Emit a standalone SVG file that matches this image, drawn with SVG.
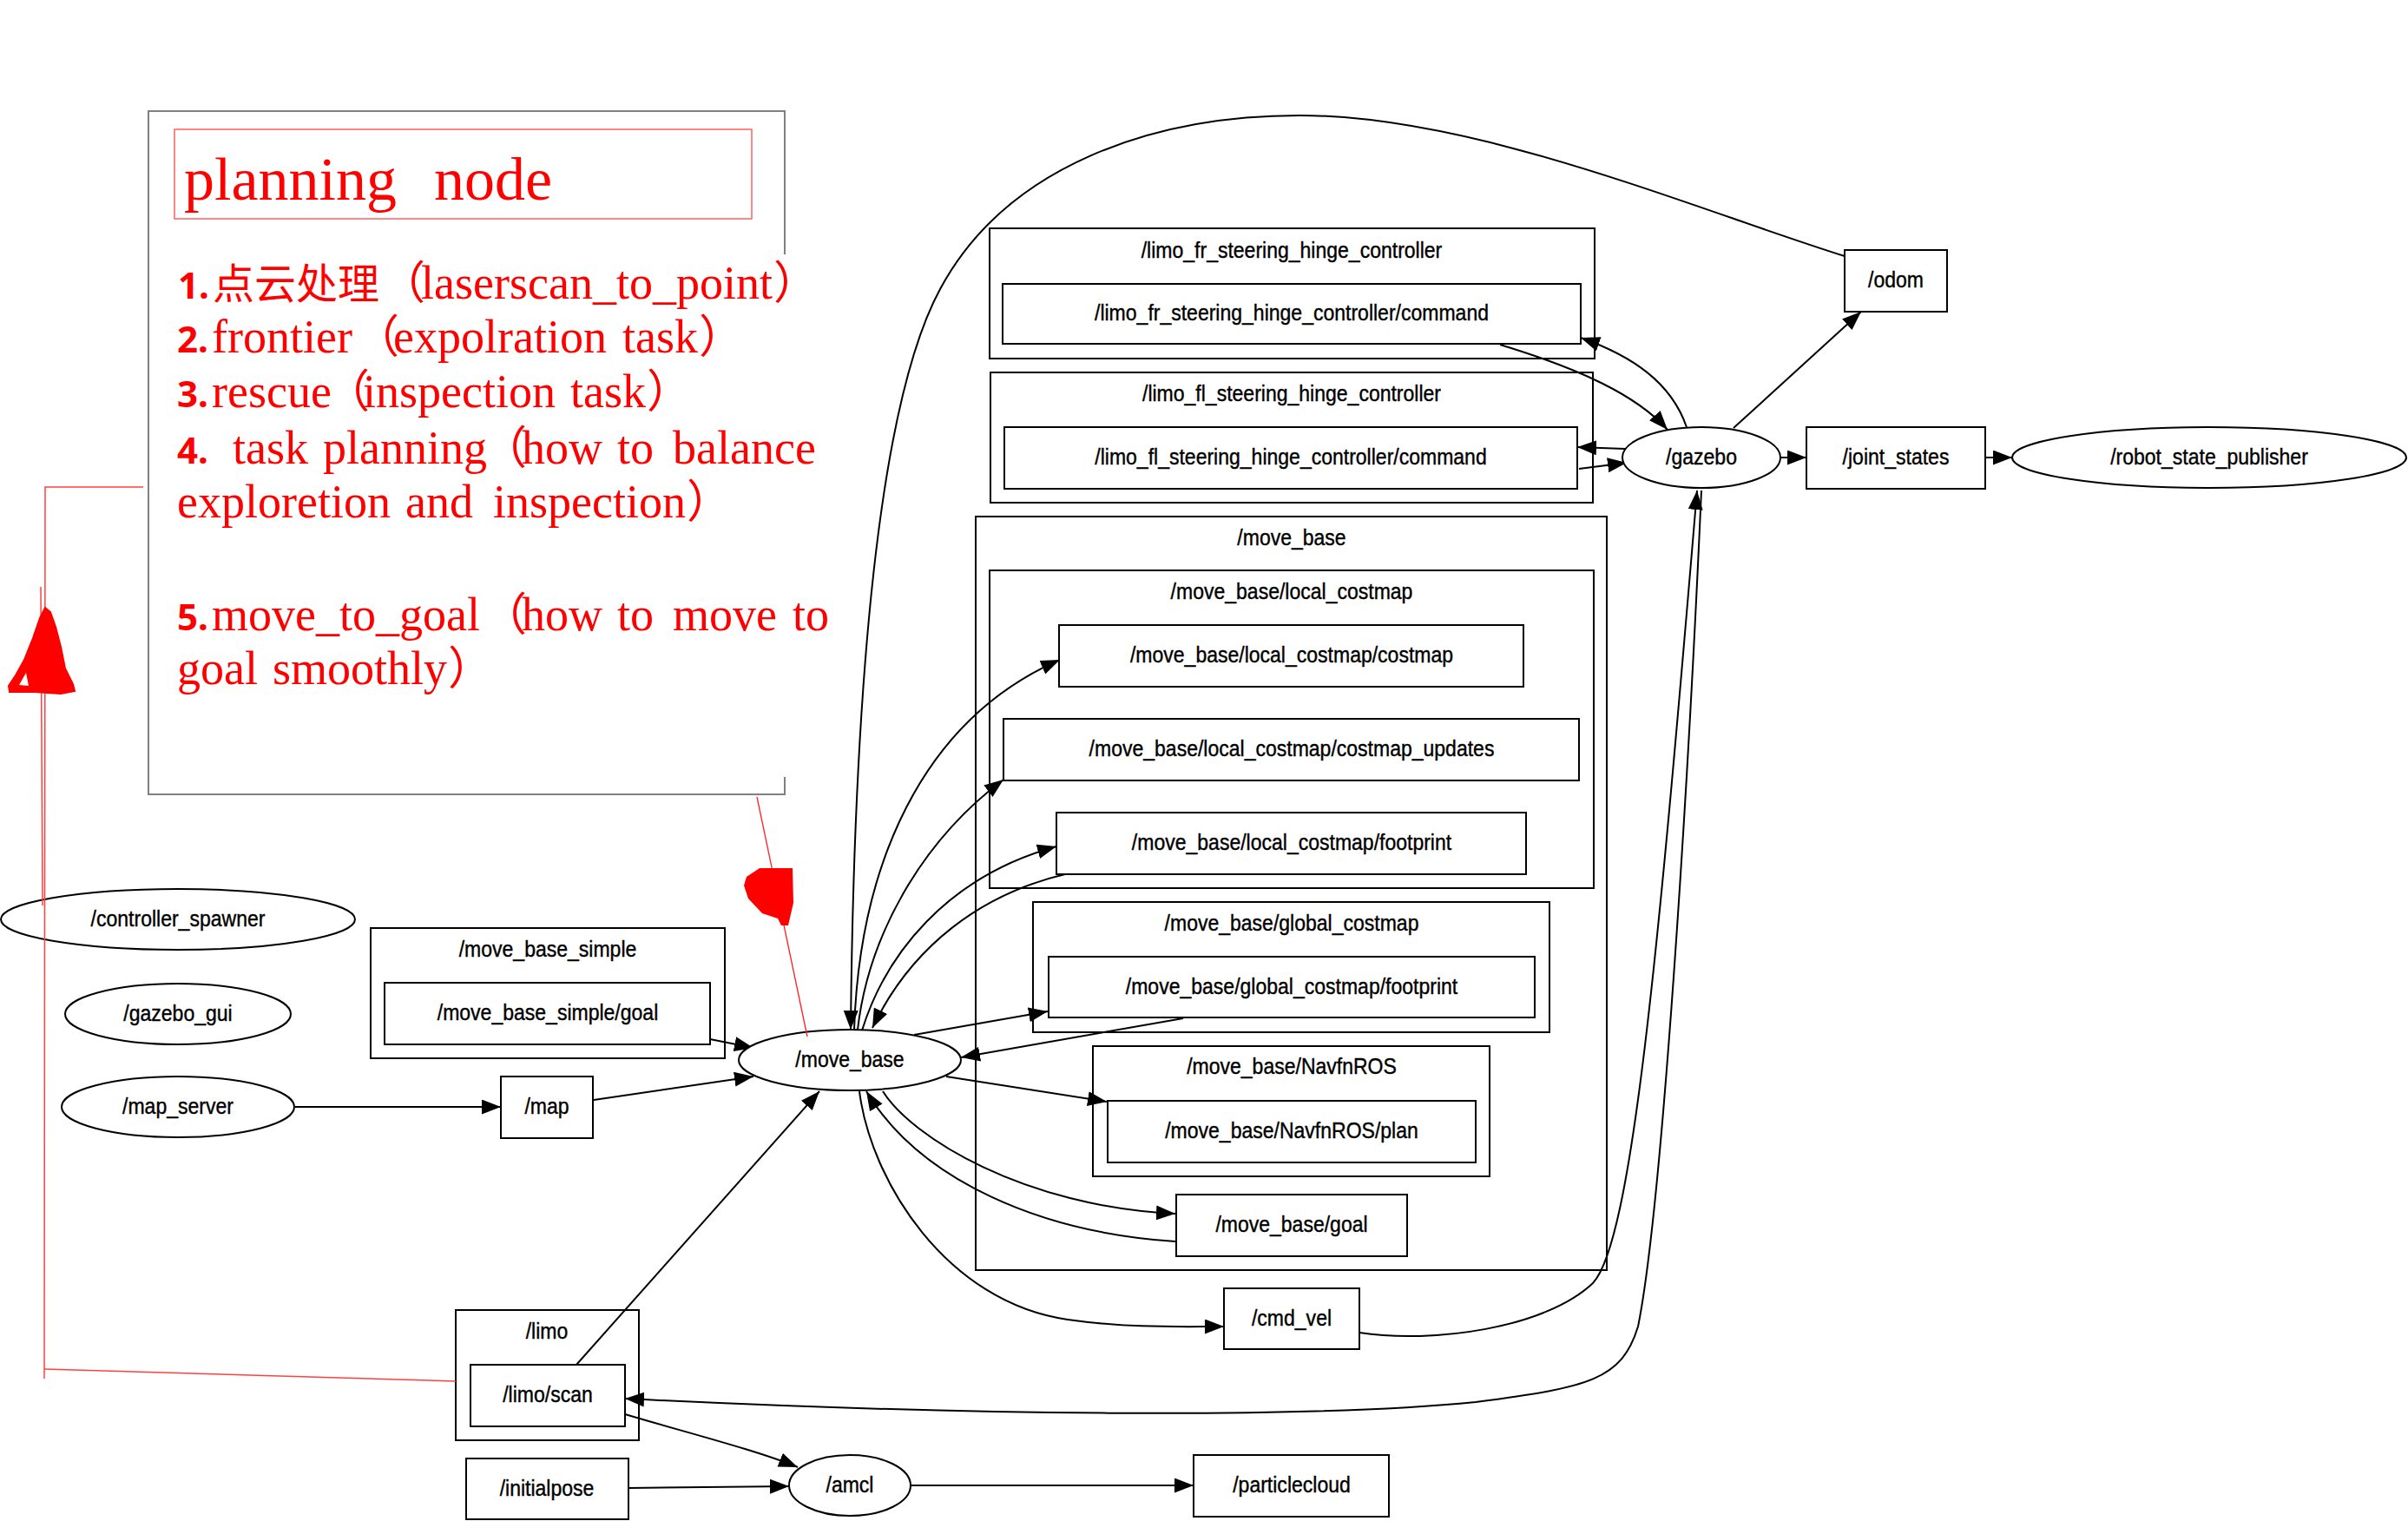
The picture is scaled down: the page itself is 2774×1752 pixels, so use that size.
<svg xmlns="http://www.w3.org/2000/svg" width="2774" height="1752" viewBox="0 0 2774 1752">
<defs>
  <marker id="arrow" markerUnits="userSpaceOnUse" markerWidth="24" markerHeight="18" refX="22" refY="8.5" orient="auto">
    <path d="M0,0 L22,8.5 L0,17 Z" fill="#000"/>
  </marker>
  <style>
    .n { fill:#fff; stroke:#000; stroke-width:2; }
    .c { fill:none; stroke:#000; stroke-width:2; }
    .t { font-family:"Liberation Sans", Arial, sans-serif; font-size:26px; text-anchor:middle; fill:#000; stroke:#000; stroke-width:0.4; }
    .e { fill:none; stroke:#000; stroke-width:2; marker-end:url(#arrow); }
    .note { fill:#ff0000; }
    .serif { font-family:"Liberation Serif", "Times New Roman", serif; font-size:54px; }
    .num { font-family:"Noto Sans", "Liberation Sans", sans-serif; font-size:42px; font-weight:bold; }
    .cjk { font-family:"Noto Sans CJK SC", sans-serif; font-size:48px; }
    .par { font-family:"Noto Sans CJK SC", sans-serif; font-size:52px; }
    .pen { fill:none; stroke:#ff4040; stroke-width:1.5; }
  </style>
</defs>
<rect x="0" y="0" width="2774" height="1752" fill="#fff"/>

<!-- clusters -->
<g id="cluster-limo-fr">
  <rect class="c" x="1140" y="263" width="697" height="150"/>
  <text class="t" transform="translate(1488,297) scale(0.885,1)">/limo_fr_steering_hinge_controller</text>
</g>
<g id="cluster-limo-fl">
  <rect class="c" x="1141" y="429" width="694" height="150"/>
  <text class="t" transform="translate(1488,462) scale(0.885,1)">/limo_fl_steering_hinge_controller</text>
</g>
<g id="cluster-move-base">
  <rect class="c" x="1124" y="595" width="727" height="868"/>
  <text class="t" transform="translate(1488,628) scale(0.885,1)">/move_base</text>
</g>
<g id="cluster-local-costmap">
  <rect class="c" x="1140" y="657" width="696" height="366"/>
  <text class="t" transform="translate(1488,690) scale(0.885,1)">/move_base/local_costmap</text>
</g>
<g id="cluster-global-costmap">
  <rect class="c" x="1190" y="1039" width="595" height="150"/>
  <text class="t" transform="translate(1488,1072) scale(0.885,1)">/move_base/global_costmap</text>
</g>
<g id="cluster-navfn">
  <rect class="c" x="1259" y="1205" width="457" height="150"/>
  <text class="t" transform="translate(1488,1237) scale(0.885,1)">/move_base/NavfnROS</text>
</g>
<g id="cluster-move-base-simple">
  <rect class="c" x="427" y="1069" width="408" height="150"/>
  <text class="t" transform="translate(631,1102) scale(0.885,1)">/move_base_simple</text>
</g>
<g id="cluster-limo">
  <rect class="c" x="525" y="1509" width="211" height="150"/>
  <text class="t" transform="translate(630,1542) scale(0.885,1)">/limo</text>
</g>

<!-- connectors -->
<g id="connectors">
  <path class="e" d="M2125,295 C1950,240 1700,133 1497,133 C1330,133 1160,190 1083,333 C1025,440 985,700 980,1186"/>
  <path class="e" d="M984,1186 C990,1000 1060,830 1221,760"/>
  <path class="e" d="M988,1186 C1000,1080 1060,970 1156,898"/>
  <path class="e" d="M993,1187 C1020,1100 1090,1010 1217,975"/>
  <path class="e" d="M1227,1007 C1130,1030 1050,1090 1005,1184"/>
  <path class="e" d="M1053,1192 L1207,1165"/>
  <path class="e" d="M1363,1173 L1107,1218"/>
  <path class="e" d="M1090,1240 L1275,1269"/>
  <path class="e" d="M1017,1257 C1050,1310 1180,1390 1354,1398"/>
  <path class="e" d="M1354,1430 C1200,1420 1060,1360 998,1257"/>
  <path class="e" d="M990,1257 C1003,1360 1090,1500 1230,1520 C1300,1530 1360,1528 1410,1528"/>
  <path class="e" d="M1566,1535 C1650,1548 1780,1530 1835,1478 C1880,1430 1910,1100 1955,565"/>
  <path class="e" d="M1960,565 C1945,900 1915,1390 1887,1528 C1868,1590 1830,1598 1700,1615 C1500,1635 1100,1630 720,1611"/>
  <path class="e" d="M664,1572 L944,1257"/>
  <path class="e" d="M720,1629 C790,1650 870,1670 919,1690"/>
  <path class="e" d="M724,1714 L909,1712"/>
  <path class="e" d="M1049,1711 L1375,1711"/>
  <path class="e" d="M340,1275 L577,1275"/>
  <path class="e" d="M684,1267 L868,1240"/>
  <path class="e" d="M818,1197 L868,1207"/>
  <path class="e" d="M1728,397 C1820,425 1885,455 1921,495"/>
  <path class="e" d="M1943,492 C1925,440 1880,410 1821,389"/>
  <path class="e" d="M1872,517 L1817,515"/>
  <path class="e" d="M1819,540 L1874,533"/>
  <path class="e" d="M1997,493 L2144,359"/>
  <path class="e" d="M2051,527 L2081,527"/>
  <path class="e" d="M2288,527 L2318,527"/>
</g>

<!-- topic and node shapes -->
<g id="limo-fr-command">
  <rect class="n" x="1155" y="327" width="666" height="69"/>
  <text class="t" transform="translate(1488,369) scale(0.885,1)">/limo_fr_steering_hinge_controller/command</text>
</g>
<g id="limo-fl-command">
  <rect class="n" x="1157" y="492" width="660" height="71"/>
  <text class="t" transform="translate(1487,535) scale(0.885,1)">/limo_fl_steering_hinge_controller/command</text>
</g>
<g id="local-costmap-costmap">
  <rect class="n" x="1220" y="720" width="535" height="71"/>
  <text class="t" transform="translate(1488,763) scale(0.885,1)">/move_base/local_costmap/costmap</text>
</g>
<g id="local-costmap-updates">
  <rect class="n" x="1156" y="828" width="663" height="71"/>
  <text class="t" transform="translate(1488,871) scale(0.885,1)">/move_base/local_costmap/costmap_updates</text>
</g>
<g id="local-costmap-footprint">
  <rect class="n" x="1217" y="936" width="541" height="71"/>
  <text class="t" transform="translate(1488,979) scale(0.885,1)">/move_base/local_costmap/footprint</text>
</g>
<g id="global-costmap-footprint">
  <rect class="n" x="1208" y="1102" width="560" height="70"/>
  <text class="t" transform="translate(1488,1145) scale(0.885,1)">/move_base/global_costmap/footprint</text>
</g>
<g id="navfn-plan">
  <rect class="n" x="1276" y="1268" width="424" height="71"/>
  <text class="t" transform="translate(1488,1311) scale(0.885,1)">/move_base/NavfnROS/plan</text>
</g>
<g id="move-base-goal">
  <rect class="n" x="1355" y="1376" width="266" height="71"/>
  <text class="t" transform="translate(1488,1419) scale(0.885,1)">/move_base/goal</text>
</g>
<g id="move-base-simple-goal">
  <rect class="n" x="443" y="1132" width="375" height="71"/>
  <text class="t" transform="translate(631,1175) scale(0.885,1)">/move_base_simple/goal</text>
</g>
<g id="limo-scan">
  <rect class="n" x="542" y="1572" width="178" height="71"/>
  <text class="t" transform="translate(631,1615) scale(0.885,1)">/limo/scan</text>
</g>
<g id="odom">
  <rect class="n" x="2125" y="288" width="118" height="71"/>
  <text class="t" transform="translate(2184,331) scale(0.885,1)">/odom</text>
</g>
<g id="joint-states">
  <rect class="n" x="2081" y="492" width="206" height="71"/>
  <text class="t" transform="translate(2184,535) scale(0.885,1)">/joint_states</text>
</g>
<g id="robot-state-publisher">
  <ellipse class="n" cx="2545" cy="527" rx="227" ry="35"/>
  <text class="t" transform="translate(2545,535) scale(0.885,1)">/robot_state_publisher</text>
</g>
<g id="gazebo">
  <ellipse class="n" cx="1960" cy="527" rx="91" ry="35"/>
  <text class="t" transform="translate(1960,535) scale(0.885,1)">/gazebo</text>
</g>
<g id="move-base">
  <ellipse class="n" cx="979" cy="1221" rx="128" ry="35"/>
  <text class="t" transform="translate(979,1229) scale(0.885,1)">/move_base</text>
</g>
<g id="controller-spawner">
  <ellipse class="n" cx="205" cy="1059" rx="204" ry="35"/>
  <text class="t" transform="translate(205,1067) scale(0.885,1)">/controller_spawner</text>
</g>
<g id="gazebo-gui">
  <ellipse class="n" cx="205" cy="1168" rx="130" ry="35"/>
  <text class="t" transform="translate(205,1176) scale(0.885,1)">/gazebo_gui</text>
</g>
<g id="map-server">
  <ellipse class="n" cx="205" cy="1275" rx="134" ry="35"/>
  <text class="t" transform="translate(205,1283) scale(0.885,1)">/map_server</text>
</g>
<g id="map">
  <rect class="n" x="577" y="1240" width="106" height="71"/>
  <text class="t" transform="translate(630,1283) scale(0.885,1)">/map</text>
</g>
<g id="cmd-vel">
  <rect class="n" x="1410" y="1484" width="156" height="70"/>
  <text class="t" transform="translate(1488,1527) scale(0.885,1)">/cmd_vel</text>
</g>
<g id="initialpose">
  <rect class="n" x="537" y="1680" width="187" height="70"/>
  <text class="t" transform="translate(630,1723) scale(0.885,1)">/initialpose</text>
</g>
<g id="amcl">
  <ellipse class="n" cx="979" cy="1711" rx="70" ry="35"/>
  <text class="t" transform="translate(979,1719) scale(0.885,1)">/amcl</text>
</g>
<g id="particlecloud">
  <rect class="n" x="1375" y="1676" width="225" height="71"/>
  <text class="t" transform="translate(1488,1719) scale(0.885,1)">/particlecloud</text>
</g>

<!-- planning node note -->
<g id="planning-note">
  <path d="M904,293 L904,128 L171,128 L171,915 L904,915 L904,895" fill="none" stroke="#808080" stroke-width="2"/>
  <rect x="201" y="149" width="665" height="103" fill="none" stroke="#ff6060" stroke-width="1.5"/>
  <text class="note serif" style="font-size:70px" y="230"><tspan x="212">planning</tspan><tspan x="500">node</tspan></text>
  <text class="note" y="344"><tspan class="num" x="205">1.</tspan><tspan class="cjk" x="245">点云处理</tspan><tspan class="par" x="438">（</tspan><tspan class="serif" x="485">laserscan_to_point</tspan><tspan class="par" x="891">）</tspan></text>
  <text class="note" y="406"><tspan class="num" x="204">2.</tspan><tspan class="serif" x="244">frontier</tspan><tspan class="par" x="408">（</tspan><tspan class="serif" x="453">expolration</tspan><tspan class="serif" x="717">task</tspan><tspan class="par" x="805">）</tspan></text>
  <text class="note" y="469"><tspan class="num" x="204">3.</tspan><tspan class="serif" x="244">rescue</tspan><tspan class="par" x="374">（</tspan><tspan class="serif" x="418">inspection</tspan><tspan class="serif" x="657">task</tspan><tspan class="par" x="745">）</tspan></text>
  <text class="note" y="534"><tspan class="num" x="204">4.</tspan><tspan class="serif" x="268">task</tspan><tspan class="serif" x="372">planning</tspan><tspan class="par" x="555">（</tspan><tspan class="serif" x="601">how</tspan><tspan class="serif" x="711">to</tspan><tspan class="serif" x="775">balance</tspan></text>
  <text class="note" y="596"><tspan class="serif" x="204">exploretion</tspan><tspan class="serif" x="467">and</tspan><tspan class="serif" x="568">inspection</tspan><tspan class="par" x="791">）</tspan></text>
  <text class="note" y="726"><tspan class="num" x="204">5.</tspan><tspan class="serif" x="244">move_to_goal</tspan><tspan class="par" x="555">（</tspan><tspan class="serif" x="601">how</tspan><tspan class="serif" x="711">to</tspan><tspan class="serif" x="775">move</tspan><tspan class="serif" x="913">to</tspan></text>
  <text class="note" y="788"><tspan class="serif" x="204">goal</tspan><tspan class="serif" x="314">smoothly</tspan><tspan class="par" x="516">）</tspan></text>
</g>

<!-- hand-drawn pen marks -->
<g id="pen-marks">
  <path class="pen" d="M165,561 L52,561 L51,1588"/>
  <path class="pen" d="M51,1577 L525,1591"/>
  <path class="pen" d="M47,676 L49,1043"/>
  <path d="M52,700 L46,712 L38,735 L28,760 L18,778 L10,790 L11,797 L40,797 L70,799 L86,796 L84,788 L75,770 L70,745 L64,722 L58,705 Z" fill="#ff0000" stroke="#ff0000" stroke-width="2"/>
  <path d="M22,789 L30,775 L33,790 Z" fill="#fff"/>
  <path d="M872,918 L930,1194" fill="none" stroke="#ff2020" stroke-width="1.3"/>
  <path d="M875,1000 L913,1000 L914,1040 L908,1066 L900,1066 L896,1058 L878,1052 L862,1035 L857,1020 L860,1010 Z" fill="#ff0000"/>
</g>
</svg>
